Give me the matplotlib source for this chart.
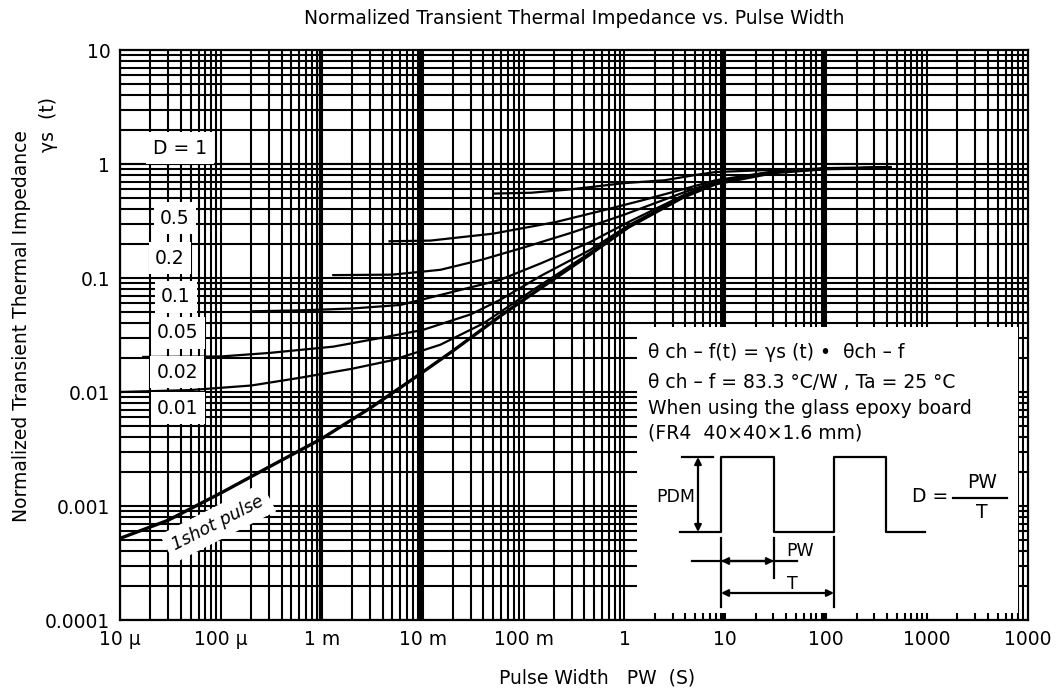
import numpy as np
import matplotlib
matplotlib.use("Agg")
import matplotlib.pyplot as plt
from matplotlib.ticker import FixedLocator, NullLocator

plt.rcParams['font.family'] = ['DejaVu Sans']

# ---------------- data ----------------
single_x = [1e-5, 3e-5, 1e-4, 3e-4, 1e-3, 3e-3, 8e-3, 0.02, 0.06, 0.18, 0.45, 1.1, 3.8, 8, 30, 100, 430]
single_y = [5.2e-4, 7.5e-4, 1.3e-3, 2.2e-3, 3.9e-3, 7.2e-3, 0.013, 0.023, 0.047, 0.092, 0.16, 0.28, 0.51, 0.67, 0.84, 0.91, 0.93]

d001_x = [1e-5, 5e-5, 2e-4, 6e-4, 2e-3, 5e-3, 0.015, 0.04, 0.12, 0.45, 1.1, 3.8, 8, 30, 100, 430]
d001_y = [0.01, 0.0104, 0.0114, 0.0133, 0.016, 0.019, 0.026, 0.040, 0.077, 0.165, 0.285, 0.515, 0.675, 0.845, 0.91, 0.93]

d002_x = [1.7e-5, 1e-4, 3e-4, 1.3e-3, 4e-3, 0.01, 0.03, 0.058, 0.15, 0.45, 1.1, 3.8, 8, 30, 100, 430]
d002_y = [0.0203, 0.0205, 0.022, 0.025, 0.030, 0.035, 0.048, 0.064, 0.105, 0.175, 0.29, 0.52, 0.68, 0.85, 0.91, 0.93]

d005_x = [2e-4, 6e-4, 2e-3, 6e-3, 0.016, 0.058, 0.15, 0.45, 1.1, 3.8, 8, 30, 100, 430]
d005_y = [0.051, 0.052, 0.054, 0.058, 0.072, 0.096, 0.135, 0.205, 0.31, 0.53, 0.69, 0.85, 0.91, 0.93]

d01_x = [1.3e-3, 5e-3, 0.015, 0.039, 0.1, 0.3, 1.0, 3.8, 8, 30, 100, 430]
d01_y = [0.106, 0.107, 0.118, 0.145, 0.185, 0.25, 0.36, 0.56, 0.70, 0.86, 0.91, 0.93]

d02_x = [4.7e-3, 0.012, 0.05, 0.21, 0.6, 1.5, 3.8, 8, 30, 100, 430]
d02_y = [0.21, 0.213, 0.245, 0.31, 0.39, 0.48, 0.6, 0.72, 0.86, 0.91, 0.93]

d05_x = [0.05, 0.12, 0.3, 1.0, 2.5, 5, 8, 30, 100, 430]
d05_y = [0.55, 0.56, 0.6, 0.68, 0.72, 0.8, 0.85, 0.89, 0.91, 0.93]

d1_x = [1e-5, 430]
d1_y = [1.0, 1.0]

x_ticks = [1e-5, 1e-4, 1e-3, 1e-2, 1e-1, 1, 10, 100, 1000, 10000]
x_tick_labels = ["10 \u00b5", "100 \u00b5", "1 m", "10 m", "100 m", "1", "10", "100", "1000", "1000"]
y_ticks = [1e-4, 1e-3, 1e-2, 1e-1, 1, 10]
y_tick_labels = ["0.0001", "0.001", "0.01", "0.1", "1", "10"]

duty_labels = ["D = 1", "0.5", "0.2", "0.1", "0.05", "0.02", "0.01"]

# ---------------- figure ----------------
W, H = 1060, 693
fig = plt.figure(figsize=(W / 100, H / 100), dpi=100)
AX_L, AX_R, AX_T, AX_B = 120, 1028, 50, 620
ax = fig.add_axes([AX_L / W, 1 - AX_B / H, (AX_R - AX_L) / W, (AX_B - AX_T) / H])
ax.set_xscale('log')
ax.set_yscale('log')
ax.set_xlim(1e-5, 1e4)
ax.set_ylim(1e-4, 10)

def axf(px, py):
    return (px - AX_L) / (AX_R - AX_L), (AX_B - py) / (AX_B - AX_T)

FS = 13.5

# manual full grid
gw = 1.5
for e in range(-5, 4):
    for m in range(1, 10):
        v = m * 10.0 ** e
        ax.axvline(v, color='black', lw=gw, zorder=1)
for e in range(-4, 1):
    for m in range(1, 10):
        v = m * 10.0 ** e
        ax.axhline(v, color='black', lw=gw, zorder=1)
for v in [1e-3, 1e-2, 10, 100]:
    ax.axvline(v * 0.95, color='black', lw=2.4, zorder=1)

# curves
ax.plot(d1_x, d1_y, color='black', lw=1.5, zorder=3)
for xs, ys in [(d05_x, d05_y), (d02_x, d02_y), (d01_x, d01_y), (d005_x, d005_y),
               (d002_x, d002_y), (d001_x, d001_y)]:
    ax.plot(xs, ys, color='black', lw=1.6, zorder=3)
ax.plot(single_x, single_y, color='black', lw=2.4, zorder=3)

# axes formatting
ax.xaxis.set_major_locator(FixedLocator(x_ticks))
ax.xaxis.set_minor_locator(NullLocator())
ax.yaxis.set_major_locator(FixedLocator(y_ticks))
ax.yaxis.set_minor_locator(NullLocator())
ax.set_xticklabels(x_tick_labels, fontsize=FS)
ax.set_yticklabels(y_tick_labels, fontsize=FS)
ax.tick_params(length=0, pad=7)
for s in ax.spines.values():
    s.set_linewidth(1.6)
    s.set_zorder(6)

# duty labels
lab_pos = [(180, 148), (175, 218), (170, 258), (176, 297), (178, 333), (177, 372), (178, 408)]
for t, (px, py) in zip(duty_labels, lab_pos):
    x0, y0 = axf(px, py)
    ax.text(x0, y0, t, transform=ax.transAxes, ha='center', va='center', fontsize=FS,
            zorder=5, bbox=dict(boxstyle='square,pad=0.35', fc='white', ec='none'))
x0, y0 = axf(218, 523)
ax.text(x0, y0, "1shot pulse", transform=ax.transAxes, ha='center', va='center',
        fontsize=FS - 1, rotation=27, style='italic', zorder=5,
        bbox=dict(boxstyle='square,pad=0.4', fc='white', ec='none'))

# titles / labels
fig.text(574 / W, 1 - 18 / H, "Normalized Transient Thermal Impedance vs. Pulse Width",
         ha='center', va='center', fontsize=FS)
fig.text(597 / W, 1 - 678 / H, "Pulse Width   PW  (S)", ha='center', va='center', fontsize=FS)
fig.text(22 / W, 1 - 326 / H, "Normalized Transient Thermal Impedance", rotation=90,
         ha='center', va='center', fontsize=FS)
fig.text(48 / W, 1 - 125 / H, "\u03b3s  (t)", rotation=90, ha='center', va='center', fontsize=FS)

# ---------------- inset box ----------------
BX0, BX1, BY0, BY1 = 637, 1018, 327, 613
ax2 = fig.add_axes([BX0 / W, 1 - BY1 / H, (BX1 - BX0) / W, (BY1 - BY0) / H])
ax2.set_xlim(BX0, BX1)
ax2.set_ylim(BY1, BY0)
ax2.set_facecolor('white')
ax2.set_xticks([])
ax2.set_yticks([])
for s in ax2.spines.values():
    s.set_visible(False)

lines_txt = ["\u03b8 ch \u2013 f(t) = \u03b3s (t) \u2022  \u03b8ch \u2013 f",
             "\u03b8 ch \u2013 f = 83.3 \u00b0C/W , Ta = 25 \u00b0C",
             "When using the glass epoxy board",
             "(FR4  40\u00d740\u00d71.6 mm)"]
for t, py in zip(lines_txt, [352, 383, 408, 433]):
    ax2.text(648, py, t, ha='left', va='center', fontsize=FS)

lw = 1.6
lo, hi = 532, 457
ax2.plot([680, 721, 721, 774, 774, 834, 834, 886, 886, 925],
         [lo, lo, hi, hi, lo, lo, hi, hi, lo, lo], color='black', lw=lw)
ax2.plot([682, 713], [hi, hi], color='black', lw=lw)
ax2.annotate("", xy=(698, hi), xytext=(698, lo),
             arrowprops=dict(arrowstyle='<|-|>', color='black', lw=lw, mutation_scale=10,
                             shrinkA=0, shrinkB=0))
ax2.text(676, 497, "PDM", ha='center', va='center', fontsize=FS - 1)
ax2.plot([721, 721], [538, 607], color='black', lw=lw)
ax2.plot([774, 774], [538, 578], color='black', lw=lw)
ax2.plot([834, 834], [537, 607], color='black', lw=lw)
ax2.plot([692, 797], [561, 561], color='black', lw=lw)
ax2.annotate("", xy=(721, 561), xytext=(774, 561),
             arrowprops=dict(arrowstyle='<|-|>', color='black', lw=lw, mutation_scale=10,
                             shrinkA=0, shrinkB=0))
ax2.text(786, 551, "PW", ha='left', va='center', fontsize=FS - 1)
ax2.annotate("", xy=(721, 593), xytext=(834, 593),
             arrowprops=dict(arrowstyle='<|-|>', color='black', lw=lw, mutation_scale=10,
                             shrinkA=0, shrinkB=0))
ax2.text(792, 584, "T", ha='center', va='center', fontsize=FS - 1)
ax2.text(930, 497, "D =", ha='center', va='center', fontsize=FS)
ax2.plot([953, 1007], [498, 498], color='black', lw=lw)
ax2.text(982, 483, "PW", ha='center', va='center', fontsize=FS)
ax2.text(982, 512, "T", ha='center', va='center', fontsize=FS)

fig.savefig("out.png", dpi=100, facecolor='white')
